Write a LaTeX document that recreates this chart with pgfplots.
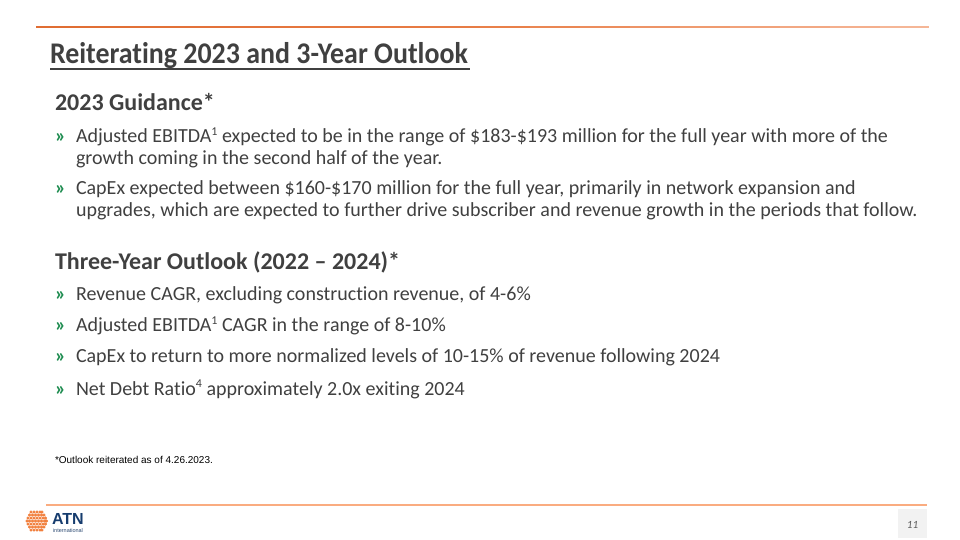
\documentclass[border=0pt]{standalone}
\usepackage{pgfplots}
\pgfplotsset{compat=1.18}
\usepackage{fontspec}
\setmainfont{Carlito}[Ligatures={TeX,NoCommon}]
\newfontfamily\arialf{Liberation Sans}
\newfontfamily\titlef[FakeStretch=0.93,Ligatures={TeX,NoCommon}]{Carlito}
\definecolor{txt}{RGB}{64,64,64}
\definecolor{bul}{RGB}{30,140,80}
\definecolor{navy}{RGB}{22,60,110}
\definecolor{lorange}{RGB}{250,172,128}
\definecolor{dorange}{RGB}{240,120,50}
\tikzset{tx/.style={inner sep=0pt, outer sep=0pt, anchor=base west, text=txt}}
\newcommand{\bsz}{\fontsize{20bp}{22bp}\selectfont}
\newcommand{\supr}[1]{\raisebox{0.8ex}{\fontsize{12bp}{12bp}\selectfont #1}}
\begin{document}
\begin{tikzpicture}
\begin{axis}[scale only axis, width=960bp, height=540bp,
  xmin=0, xmax=960, ymin=0, ymax=540, y dir=reverse,
  hide axis, clip=false]
\path (rel axis cs:0,0) rectangle (rel axis cs:1,1);
% top gradient line
\addplot[mesh, point meta=x, line width=1.5bp,
  colormap={tl}{rgb255=(224,108,50) rgb255=(232,125,70) rgb255=(246,185,155)}]
  coordinates {(36,27)(80,27)(130,27)(180,27)(230,27)(280,27)(330,27)(380,27)(430,27)(480,27)(530,27)(580,27)(630,27)(680,27)(730,27)(780,27)(830,27)(880,27)(929,27)};
% bottom line
\addplot[color=lorange, line width=1.5bp] coordinates {(46,505)(927,505)};
% page number box
\addplot[fill=black!5, draw=none] coordinates {(898,509)(927,509)(927,538)(898,538)} -- cycle;
% logo sphere
\addplot[only marks, mark=*, mark size=1.25bp, color=dorange, mark options={draw=none, fill=dorange, fill opacity=0.85}] coordinates {
(31,512)(34,512)(37,512)(40,512)(42,512)
(29.5,515)(32.5,515)(35.5,515)(38.5,515)(41.5,515)(44,515)
(28,518)(31,518)(34,518)(37,518)(40,518)(43,518)(45.5,518)
(27,521)(29.5,521)(32.5,521)(35.5,521)(38.5,521)(41.5,521)(44.5,521)(46.5,521)
(28,524)(31,524)(34,524)(37,524)(40,524)(43,524)(45.5,524)
(29.5,527)(32.5,527)(35.5,527)(38.5,527)(41.5,527)(44,527)
(31,530)(34,530)(37,530)(40,530)(42,530)};
% title
\node[tx] at (axis cs:50,64) {\titlef\bfseries\fontsize{30bp}{32bp}\selectfont Reiterating 2023 and 3-Year Outlook};
\addplot[color=txt, line width=1.2bp] coordinates {(50,69)(470,69)};
% headings
\node[tx] at (axis cs:55,111) {\bfseries\fontsize{24bp}{28bp}\selectfont 2023 Guidance*};
\node[tx] at (axis cs:55,270) {\bfseries\fontsize{24bp}{28bp}\selectfont Three-Year Outlook (2022 -- 2024)*};
% bullets
\node[tx,text=bul] at (axis cs:55,143) {\bsz\bfseries »};
\node[tx] at (axis cs:76,143) {\bsz Adjusted EBITDA\supr{1} expected to be in the range of \$183-\$193 million for the full year with more of the};
\node[tx] at (axis cs:76,164.5) {\bsz growth coming in the second half of the year.};
\node[tx,text=bul] at (axis cs:55,195) {\bsz\bfseries »};
\node[tx] at (axis cs:76,195) {\bsz CapEx expected between \$160-\$170 million for the full year, primarily in network expansion and};
\node[tx] at (axis cs:76,216.5) {\bsz upgrades, which are expected to further drive subscriber and revenue growth in the periods that follow.};
\node[tx,text=bul] at (axis cs:55,301) {\bsz\bfseries »};
\node[tx] at (axis cs:76,301) {\bsz Revenue CAGR, excluding construction revenue, of 4-6\%};
\node[tx,text=bul] at (axis cs:55,332) {\bsz\bfseries »};
\node[tx] at (axis cs:76,332) {\bsz Adjusted EBITDA\supr{1} CAGR in the range of 8-10\%};
\node[tx,text=bul] at (axis cs:55,363) {\bsz\bfseries »};
\node[tx] at (axis cs:76,363) {\bsz CapEx to return to more normalized levels of 10-15\% of revenue following 2024};
\node[tx,text=bul] at (axis cs:55,395) {\bsz\bfseries »};
\node[tx] at (axis cs:76,395) {\bsz Net Debt Ratio\supr{4} approximately 2.0x exiting 2024};
% footnote
\node[tx,text=black] at (axis cs:55,463) {\arialf\fontsize{10bp}{12bp}\selectfont *Outlook reiterated as of 4.26.2023.};
% logo text
\node[tx,text=navy] at (axis cs:52,524.5) {\arialf\bfseries\fontsize{16bp}{18bp}\selectfont ATN};
\node[tx,text=navy!80!gray] at (axis cs:53,532.5) {\arialf\fontsize{5.5bp}{6bp}\selectfont international};
% page number
\node[tx,anchor=base,text=black!65] at (axis cs:912.5,528) {\itshape\fontsize{11bp}{12bp}\selectfont 11};
\end{axis}
\end{tikzpicture}
\end{document}
